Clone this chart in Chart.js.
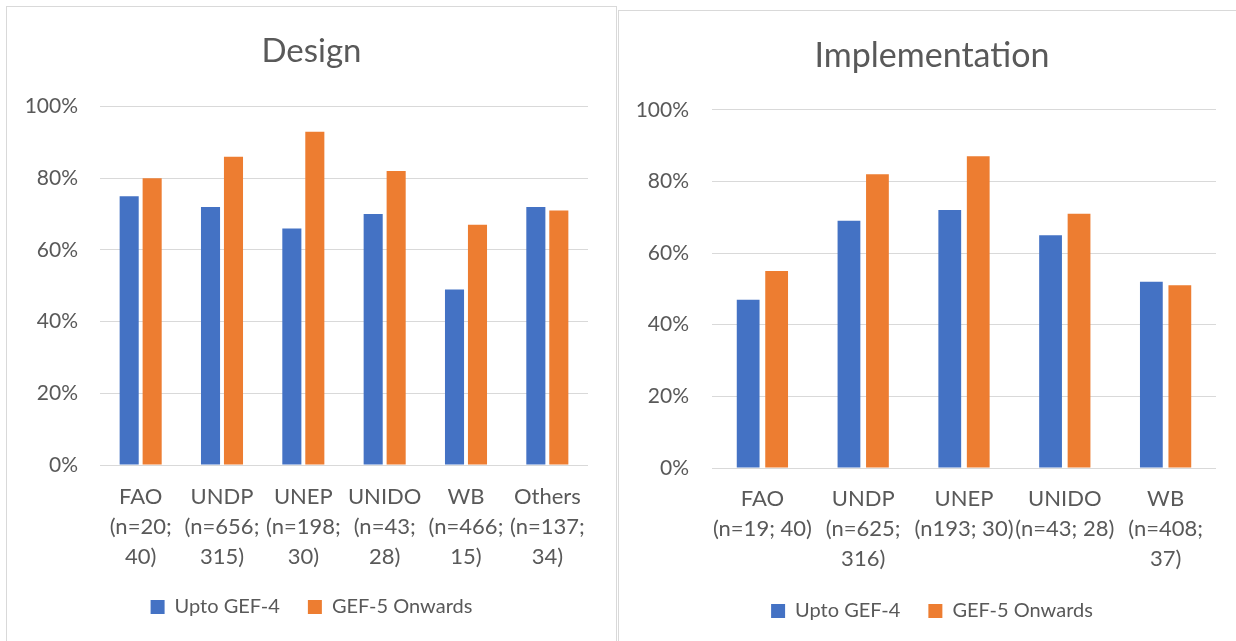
<!DOCTYPE html>
<html>
<head>
<meta charset="utf-8">
<script src="https://cdn.jsdelivr.net/npm/chart.js@4"></script>
<style>
  html, body { margin: 0; padding: 0; background: #fff; overflow: hidden; }
  body { width: 1236px; height: 641px; position: relative; }
  .frame { position: absolute; border: 1px solid #d9d9d9; background: #fff; }
  canvas { position: absolute; }
</style>
</head>
<body>
<div class="frame" style="left:6px; top:6px; width:609px; height:700px;"></div>
<div class="frame" style="left:618px; top:10px; width:700px; height:700px;"></div>
<canvas id="design" width="609" height="641" style="left:7px; top:0;"></canvas>
<canvas id="impl" width="626" height="641" style="left:619px; top:0;"></canvas>
<script>
// ラベルとデータ
const designLabels = [
  ['FAO', '(n=20;', '40)'],
  ['UNDP', '(n=656;', '315)'],
  ['UNEP', '(n=198;', '30)'],
  ['UNIDO', '(n=43;', '28)'],
  ['WB', '(n=466;', '15)'],
  ['Others', '(n=137;', '34)'],
];
const designUpto = [75, 72, 66, 70, 49, 72];
const designGef5 = [80, 86, 93, 82, 67, 71];

const implLabels = [
  ['FAO', '(n=19; 40)'],
  ['UNDP', '(n=625;', '316)'],
  ['UNEP', '(n193; 30)'],
  ['UNIDO', '(n=43; 28)'],
  ['WB', '(n=408;', '37)'],
];
const implUpto = [47, 69, 72, 65, 52];
const implGef5 = [55, 82, 87, 71, 51];

const yTicks = [0, 20, 40, 60, 80, 100];
const seriesNames = ['Upto GEF-4', 'GEF-5 Onwards'];

const textColor = '#595959';
const gridColor = '#d9d9d9';
const font = 'Lato, "Open Sans", sans-serif';

/**
 * 棒グラフ作成
 */
function makeChart(id, title, labels, upto, gef5, o) {
  const data = {
    labels: labels,
    datasets: [
      { label: seriesNames[0], data: upto, backgroundColor: '#4472C4' },
      { label: seriesNames[1], data: gef5, backgroundColor: '#ED7D31' },
    ],
  };

  const config = {
    type: 'bar',
    data: data,
    options: {
      responsive: false,
      animation: false,
      datasets: { bar: { categoryPercentage: 0.565, barPercentage: o.barPct } },
      layout: { padding: { left: 0, right: 0, bottom: o.bottom } },
      plugins: {
        title: {
          display: true,
          text: title,
          color: textColor,
          font: { family: font, size: o.titleSize, weight: 'normal' },
          padding: { top: o.titleTop, bottom: o.titleBottom },
        },
        legend: {
          position: 'bottom',
          labels: {
            color: textColor,
            font: { family: font, size: 20 },
            boxWidth: 14,
            boxHeight: 14,
            padding: 28,
          },
        },
        tooltip: { enabled: false },
      },
      scales: {
        x: {
          grid: { display: false },
          border: { display: false },
          ticks: {
            color: textColor,
            font: { family: font, size: 22, lineHeight: 1.364 },
            padding: o.xPad,
            maxRotation: 0,
            autoSkip: false,
          },
          afterFit: (s) => { s.height = o.xHeight; },
        },
        y: {
          min: 0,
          max: 100,
          afterBuildTicks: (s) => { s.ticks = yTicks.map((v) => ({ value: v })); },
          grid: { color: gridColor, lineWidth: 1, drawTicks: false },
          border: { display: false },
          ticks: {
            color: textColor,
            font: { family: font, size: 21 },
            padding: o.yPad,
            callback: (v) => v + '%',
          },
          afterFit: (s) => { s.width = 93; },
        },
        // 右側の余白用（表示なし）
        yRight: {
          position: 'right',
          grid: { display: false },
          border: { display: false },
          ticks: { display: false },
          afterFit: (s) => { s.width = o.right; },
        },
      },
    },
  };
  return new Chart(document.getElementById(id), config);
}

makeChart('design', 'Design', designLabels, designUpto, designGef5, {
  barPct: 0.83, right: 28, bottom: 14, titleSize: 33, titleTop: 32, titleBottom: 35, xHeight: 104, xPad: 9, yPad: 22,
});
makeChart('impl', 'Implementation', implLabels, implUpto, implGef5, {
  barPct: 0.8, right: 29, bottom: 10, titleSize: 34, titleTop: 36, titleBottom: 33, xHeight: 105, xPad: 8, yPad: 23,
});
</script>
</body>
</html>
